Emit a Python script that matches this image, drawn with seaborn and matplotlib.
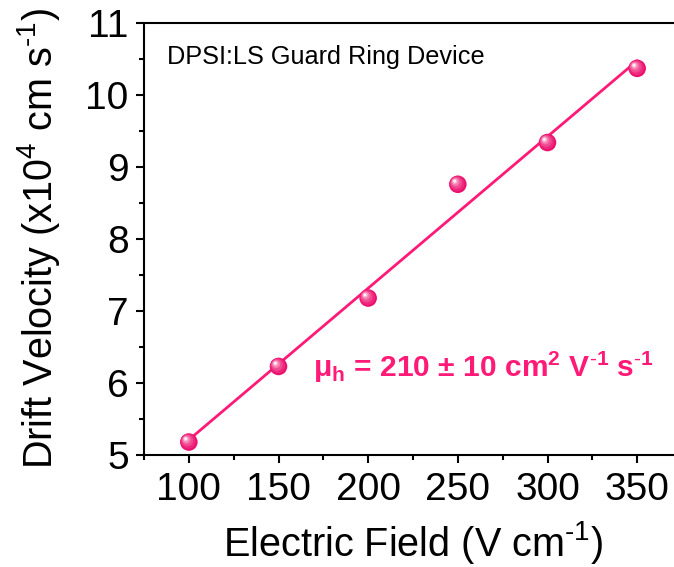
import numpy as np
import pandas as pd
import matplotlib
matplotlib.use("Agg")
import matplotlib.pyplot as plt
import matplotlib.transforms as mtransforms
from matplotlib.colors import to_rgb
from matplotlib.ticker import MultipleLocator
import seaborn as sns

# Drift velocity vs applied field
electric_field = [100, 150, 200, 250, 300, 350]          # V cm^-1
drift_velocity = [5.18, 6.23, 7.18, 8.76, 9.34, 10.37]   # x10^4 cm s^-1

x_ticks = [100, 150, 200, 250, 300, 350]
y_ticks = [5, 6, 7, 8, 9, 10, 11]

device_label = "DPSI:LS Guard Ring Device"
mobility_label = (r"μ$_\mathbf{h}$ = 210 ± 10 cm$^\mathbf{2}$ "
                  r"V$^{\mathbf{\text{-}1}}$ s$^{\mathbf{\text{-}1}}$")

PINK = "#FF1A78"

sns.set_style("ticks")
plt.rcParams["font.family"] = ["Liberation Sans", "DejaVu Sans"]
plt.rcParams["mathtext.fontset"] = "custom"
plt.rcParams["mathtext.rm"] = "Liberation Sans"
plt.rcParams["mathtext.bf"] = "Liberation Sans:bold"
plt.rcParams["mathtext.it"] = "Liberation Sans:italic"
plt.rcParams["mathtext.default"] = "regular"
for key in ["text.color", "axes.labelcolor", "xtick.color", "ytick.color",
            "xtick.labelcolor", "ytick.labelcolor"]:
    plt.rcParams[key] = "black"

df = pd.DataFrame({"field": electric_field, "velocity": drift_velocity})

# linear fit of the measured points
slope, intercept = np.polyfit(df["field"], df["velocity"], 1)
fit = pd.DataFrame({"field": [min(electric_field), max(electric_field)]})
fit["velocity"] = slope * fit["field"] + intercept

fig = plt.figure(figsize=(6.74, 5.67), dpi=100)
ax = fig.add_axes([144 / 674, 112 / 567, 538 / 674, 432 / 567])

sns.lineplot(data=fit, x="field", y="velocity", color=PINK, lw=2.0, ax=ax,
             zorder=2)

# shaded spheres: a base disc plus lighter discs shifted towards the light
base = np.array(to_rgb("#EC106E"))
white = np.array([1.0, 1.0, 1.0])
layers = [(160, 0.0, 0.0, 0.00),
          (115, -0.5, 0.5, 0.10),
          (70, -1.1, 1.1, 0.25),
          (34, -1.7, 1.7, 0.45),
          (13, -2.1, 2.1, 0.70),
          (4, -2.3, 2.3, 0.95)]
for size, dx, dy, mix in layers:
    col = base * (1 - mix) + white * mix
    tr = mtransforms.offset_copy(ax.transData, fig=fig, x=dx, y=dy,
                                 units="points")
    sns.scatterplot(data=df, x="field", y="velocity", s=size, color=col,
                    edgecolor="none", linewidth=0, ax=ax, zorder=3,
                    transform=tr, legend=False)

ax.set_xlim(75, 375)
ax.set_ylim(5, 11)
ax.set_xticks(x_ticks)
ax.set_yticks(y_ticks)
ax.xaxis.set_minor_locator(MultipleLocator(25))
ax.yaxis.set_minor_locator(MultipleLocator(0.5))

for side in ["left", "bottom", "top", "right"]:
    ax.spines[side].set_visible(True)
    ax.spines[side].set_linewidth(1.5)
    ax.spines[side].set_color("black")

ax.tick_params(which="major", direction="out", length=6, width=1.5,
               labelsize=28, pad=5, colors="black")
ax.tick_params(which="minor", direction="out", length=3.5, width=1.5,
               colors="black")
ax.tick_params(axis="x", which="major", pad=6)
ax.tick_params(top=False, right=False, which="both")

ax.set_xlabel(r"Electric Field (V cm$^{\text{-}1}$)", fontsize=28.5,
              labelpad=8)
ax.set_ylabel(r"Drift Velocity (x10$^{4}$ cm s$^{\text{-}1}$)", fontsize=28.5)
ax.yaxis.set_label_coords(-0.152, 0.5)

ax.text(0.042, 0.904, device_label, transform=ax.transAxes, fontsize=18.2,
        ha="left", va="baseline", color="black")
ax.text(169, 6.08, mobility_label, fontsize=21.6, fontweight="bold",
        color=PINK, ha="left", va="baseline")

fig.savefig("out.png", dpi=100)
